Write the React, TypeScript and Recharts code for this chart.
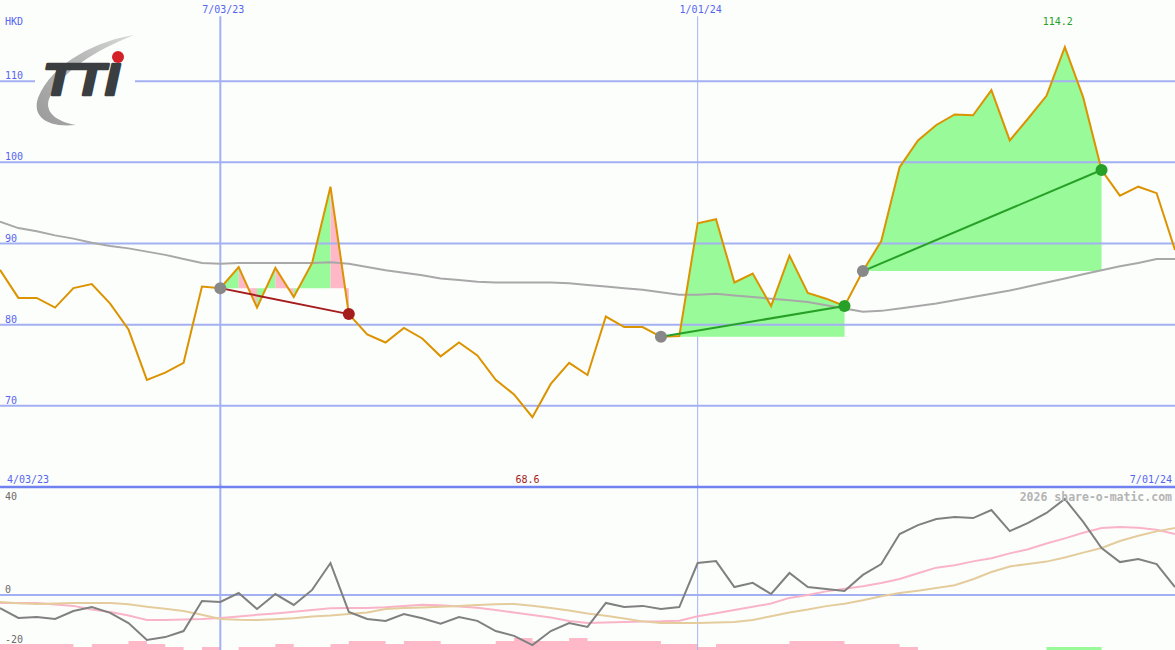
import { Area, ComposedChart, Line, ReferenceDot, ReferenceLine, XAxis, YAxis } from "recharts";

/**
 * Weekly TTI price chart (HKD) in the share-o-matic style:
 *  - top panel: close + long moving average, trades shaded from entry level
 *  - bottom panel: oscillator with two smoothings and a small volume strip
 */

const W = 1175;
const H = 650;
const TOP_H = 487;
const BOT_Y = 484;
const BOT_H = H - BOT_Y;

const BG = "#fcfefc";
const FONT = '"DejaVu Sans Mono", monospace';
const AXIS_TEXT = "#5565f0";
const GRID = "#a3b1f2";
const DIVIDER = "#7082f0";
const ORANGE = "#dc9300";
const MA_GRAY = "#a8a8a8";
const OSC_GRAY = "#808080";
const OSC_PINK = "#f9b4c8";
const OSC_TAN = "#e4cc9c";
const FILL_UP = "#98fa98";
const FILL_DOWN = "#ffb8c8";
const WIN = "#26a026";
const LOSS = "#a51c1c";
const ENTRY = "#888888";

// weekly closes, index 0 = left edge, 64 = right edge
const price = [
  86.75, 83.3, 83.3, 82.1, 84.5, 85.0, 82.6, 79.4, 73.2, 74.1, 75.3, 84.7, 84.5, 87.1, 82.1, 87.0,
  83.4, 87.6, 97.0, 81.3, 78.8, 77.8, 79.6, 78.3, 76.1, 77.8, 76.2, 73.2, 71.4, 68.6, 72.7, 75.3,
  73.8, 81.0, 79.7, 79.7, 78.5, 78.6, 92.5, 93.0, 85.2, 86.3, 82.3, 88.5, 83.9, 83.2, 82.3, 86.6,
  90.3, 99.4, 102.7, 104.6, 105.9, 105.8, 108.9, 102.7, 105.4, 108.2, 114.2, 108.0, 99.05, 95.9,
  97.0, 96.2, 89.2,
];
const priceMa = [
  92.7, 91.9, 91.5, 91.0, 90.6, 90.1, 89.7, 89.4, 89.0, 88.6, 88.1, 87.6, 87.5, 87.6, 87.6, 87.6,
  87.6, 87.6, 87.7, 87.5, 87.1, 86.7, 86.4, 86.1, 85.7, 85.5, 85.3, 85.2, 85.2, 85.2, 85.2, 85.1,
  84.9, 84.7, 84.5, 84.3, 84.0, 83.7, 83.7, 83.8, 83.6, 83.4, 83.2, 83.0, 82.8, 82.4, 82.0, 81.6,
  81.7, 82.0, 82.3, 82.6, 83.0, 83.4, 83.8, 84.2, 84.7, 85.2, 85.7, 86.2, 86.7, 87.2, 87.6, 88.1,
  88.1,
];
const osc = [
  -5.4, -9.5, -9.1, -9.9, -6.6, -5.0, -7.4, -11.6, -18.6, -17.4, -14.9, -2.5, -2.9, 0.8, -5.8, 0.4,
  -4.1, 2.1, 13.2, -7.0, -9.9, -10.7, -7.9, -9.6, -11.9, -9.1, -10.7, -14.9, -16.9, -20.7, -14.9,
  -11.6, -13.2, -3.3, -5.0, -4.5, -5.8, -5.0, 13.2, 14.0, 3.3, 5.0, 0.4, 9.1, 3.3, 2.5, 1.7, 8.3,
  12.8, 25.2, 28.9, 31.4, 32.2, 31.8, 35.1, 26.4, 29.8, 33.9, 39.7, 30.2, 19.4, 13.6, 14.9, 12.8,
  3.3,
];
const oscFast = [
  -3.3, -3.3, -3.3, -3.9, -4.5, -6.0, -7.0, -8.5, -10.3, -10.3, -10.1, -9.9, -9.5, -8.9, -8.2, -7.6,
  -6.9, -6.2, -5.5, -5.4, -5.4, -5.1, -4.5, -4.0, -4.2, -4.8, -5.3, -6.2, -7.2, -8.3, -9.3, -10.7,
  -11.6, -11.4, -11.2, -11.0, -10.9, -10.6, -8.8, -7.5, -6.2, -4.9, -3.5, -1.2, 0.0, 1.5, 2.6, 3.6,
  5.0, 6.6, 9.0, 11.3, 12.3, 13.9, 15.2, 17.2, 18.9, 21.3, 23.4, 25.7, 27.7, 28.1, 27.8, 27.0, 25.2,
];
const oscSlow = [
  -2.9, -3.4, -3.7, -3.5, -3.3, -3.3, -3.3, -3.8, -4.9, -5.7, -6.6, -8.2, -9.9, -10.2, -10.3, -10.0,
  -9.6, -8.9, -8.5, -7.9, -7.2, -5.8, -5.4, -5.2, -4.9, -4.5, -4.1, -3.8, -3.7, -4.4, -5.4, -6.4,
  -7.6, -8.6, -9.7, -10.9, -11.6, -11.6, -11.6, -11.4, -11.2, -10.3, -8.8, -7.2, -6.0, -4.6, -3.6,
  -2.2, -0.5, 0.8, 1.8, 2.9, 4.0, 6.5, 9.5, 11.8, 12.8, 13.8, 15.5, 17.5, 19.4, 22.3, 24.5, 26.3,
  27.7,
];
// volume strip, one block per week (block i spans week i .. i+1)
const volUp = [
  2, 2, 2, 2, 1, 2, 2, 3, 2, 1, 0, 1, 0, 1, 1, 2, 1, 1, 2, 3, 3, 2, 3, 3, 2, 2, 2, 3, 4, 3, 3, 4,
  3, 3, 3, 3, 2, 2, 1, 2, 2, 2, 2, 3, 3, 3, 2, 2, 2, 1, 0, 0, 0, 0, 0, 0, 0, 0, 0, 0, 0, 0, 0, 0,
];
const volDown = [
  0, 0, 0, 0, 0, 0, 0, 0, 0, 0, 0, 0, 0, 0, 0, 0, 0, 0, 0, 0, 0, 0, 0, 0, 0, 0, 0, 0, 0, 0, 0, 0,
  0, 0, 0, 0, 0, 0, 0, 0, 0, 0, 0, 0, 0, 0, 0, 0, 0, 0, 0, 0, 0, 0, 0, 0, 0, 1, 1, 1, 0, 0, 0, 0,
];

const priceTicks = [70, 80, 90, 100, 110];
const oscTicks = [40, 0, -20];
const gridIdx = [12, 38];
const gridLabels = ["7/03/23", "1/01/24"];
const rangeIdx = [0, 64];
const rangeLabels = ["4/03/23", "7/01/24"];

// trades: entry week, exit week, per-week shading (g = up week, p = down week)
const tradeStart = [12, 36, 47];
const tradeEnd = [19, 46, 60];
const tradeShade = ["gpgpggp", "gggggggggg", "ggggggggggggg"];

const PRICE_DOMAIN: [number, number] = [60, 120];
const OSC_DOMAIN: [number, number] = [-22.73, 45.87];
const VOL_DOMAIN: [number, number] = [0, BOT_H / 3];

type Row = {
  i: number;
  price: number;
  ma: number;
  osc: number;
  fast: number;
  slow: number;
  volUp?: number;
  volDown?: number;
};

const rows: Row[] = price.map((p, i) => ({
  i,
  price: p,
  ma: priceMa[i],
  osc: osc[i],
  fast: oscFast[i],
  slow: oscSlow[i],
  // last week carries the previous block so the step closes at the edge
  volUp: volUp[i] ?? volUp[i - 1],
  volDown: volDown[i] ?? volDown[i - 1],
}));

// merge runs of equally shaded weeks so each run is one polygon (no seams)
const trades = tradeStart.map((start, t) => {
  const end = tradeEnd[t];
  const shade = tradeShade[t];
  const runs: { from: number; to: number; c: string }[] = [];
  for (let s = 0; s < shade.length; s++) {
    const last = runs[runs.length - 1];
    if (last && last.c === shade[s]) last.to = start + s + 1;
    else runs.push({ from: start + s, to: start + s + 1, c: shade[s] });
  }
  return {
    start,
    end,
    win: price[end] > price[start],
    line: (d: Row) => (d.i === start || d.i === end ? d.price : null),
    runs: runs.map((r, k) => ({
      key: `t${t}r${k}`,
      base: price[start],
      fill: r.c === "g" ? FILL_UP : FILL_DOWN,
      value: (d: Row) => (d.i >= r.from && d.i <= r.to ? d.price : null),
    })),
  };
});

const maxI = price.indexOf(Math.max(...price));
const minI = price.indexOf(Math.min(...price));

function DateTick(props: { x?: number; payload?: { value: number } }) {
  const v = props.payload?.value ?? 0;
  const x = props.x ?? 0;
  const g = gridIdx.indexOf(v);
  if (g >= 0)
    return (
      <text x={x + 3} y={13} textAnchor="middle" fontFamily={FONT} fontSize={10} fill={AXIS_TEXT}>
        {gridLabels[g]}
      </text>
    );
  const r = rangeIdx.indexOf(v);
  if (r < 0) return null;
  return (
    <text
      x={r === 0 ? x + 7 : x - 3}
      y={483}
      textAnchor={r === 0 ? "start" : "end"}
      fontFamily={FONT}
      fontSize={10}
      fill={AXIS_TEXT}
    >
      {rangeLabels[r]}
    </text>
  );
}

function PriceTick(props: { y?: number; payload?: { value: number } }) {
  return (
    <text x={5} y={(props.y ?? 0) - 2} fontFamily={FONT} fontSize={10} fill={AXIS_TEXT}>
      {props.payload?.value}
    </text>
  );
}

function OscTick(props: { y?: number; payload?: { value: number } }) {
  const v = props.payload?.value ?? 0;
  return (
    <text x={5} y={(props.y ?? 0) + (v === 0 ? -2 : 2)} fontFamily={FONT} fontSize={10} fill="#6a6a6a">
      {v}
    </text>
  );
}

function Logo() {
  return (
    <g>
      <rect x={35} y={30} width={100} height={98} fill={BG} />
      <defs>
        <linearGradient id="swoosh" x1="0" y1="1" x2="1" y2="0">
          <stop offset="0" stopColor="#9a9a9a" />
          <stop offset="0.6" stopColor="#b8b8b8" />
          <stop offset="1" stopColor="#dadada" />
        </linearGradient>
      </defs>
      <path
        d="M134 35 C 100 40, 52 62, 38 98 C 32 116, 46 128, 76 125 C 54 121, 45 111, 49 99 C 60 72, 96 50, 134 35 Z"
        fill="url(#swoosh)"
      />
      <text
        x={43}
        y={95}
        fontFamily='"Liberation Sans", Arial, sans-serif'
        fontSize={45}
        fontWeight={900}
        fontStyle="italic"
        fill="#3b3e41"
        stroke="#3b3e41"
        strokeWidth={2.6}
        strokeLinejoin="round"
        textLength={76}
        lengthAdjust="spacingAndGlyphs"
      >
        TTI
      </text>
      <circle cx={118} cy={57} r={6} fill="#d42029" />
    </g>
  );
}

export default function App() {
  return (
    <div style={{ position: "absolute", left: 0, top: 0, width: W, height: H, background: BG, overflow: "hidden" }}>
      {/* price panel */}
      <div style={{ position: "absolute", left: 0, top: 0 }}>
        <ComposedChart width={W} height={TOP_H} data={rows} margin={{ top: 0, right: 0, bottom: 0, left: 0 }}>
          <XAxis
            dataKey="i"
            type="number"
            domain={[0, 64]}
            orientation="top"
            mirror
            ticks={[...rangeIdx, ...gridIdx]}
            interval={0}
            tick={<DateTick />}
            tickLine={false}
            axisLine={false}
          />
          <YAxis
            type="number"
            domain={PRICE_DOMAIN}
            ticks={priceTicks}
            mirror
            tick={<PriceTick />}
            tickLine={false}
            axisLine={false}
          />

          {gridIdx.map((g, k) => (
            <ReferenceLine
              key={`v${g}`}
              segment={[
                { x: g, y: PRICE_DOMAIN[1] - 2 },
                { x: g, y: PRICE_DOMAIN[0] },
              ]}
              stroke={GRID}
              strokeWidth={k === 0 ? 2 : 1}
              zIndex={50}
            />
          ))}

          {trades.flatMap(t =>
            t.runs.map(r => (
              <Area
                key={r.key}
                dataKey={r.value}
                baseValue={r.base}
                fill={r.fill}
                fillOpacity={1}
                stroke="none"
                dot={false}
                activeDot={false}
                isAnimationActive={false}
              />
            )),
          )}

          {priceTicks.map(v => (
            <ReferenceLine key={`h${v}`} y={v} stroke={GRID} strokeWidth={2} zIndex={150} />
          ))}

          <Line dataKey="ma" stroke={MA_GRAY} strokeWidth={2} dot={false} activeDot={false} isAnimationActive={false} />
          <Line dataKey="price" stroke={ORANGE} strokeWidth={2} dot={false} activeDot={false} isAnimationActive={false} />

          {trades.map((t, k) => (
            <Line
              key={`tl${k}`}
              dataKey={t.line}
              connectNulls
              stroke={t.win ? WIN : LOSS}
              strokeWidth={2}
              dot={false}
              activeDot={false}
              isAnimationActive={false}
            />
          ))}

          {trades.map((t, k) => (
            <ReferenceDot key={`en${k}`} x={t.start} y={price[t.start]} r={6} fill={ENTRY} stroke="none" zIndex={700} />
          ))}
          {trades.map((t, k) => (
            <ReferenceDot
              key={`ex${k}`}
              x={t.end}
              y={price[t.end]}
              r={6}
              fill={t.win ? WIN : LOSS}
              stroke="none"
              zIndex={700}
            />
          ))}

          <ReferenceDot
            x={maxI}
            y={price[maxI]}
            zIndex={800}
            shape={(p: { cx?: number }) => (
              <text x={(p.cx ?? 0) - 7} y={25} textAnchor="middle" fontFamily={FONT} fontSize={10} fill={WIN}>
                {price[maxI].toFixed(1)}
              </text>
            )}
          />
          <ReferenceDot
            x={minI}
            y={price[minI]}
            zIndex={800}
            shape={(p: { cx?: number }) => (
              <text x={(p.cx ?? 0) - 5} y={483} textAnchor="middle" fontFamily={FONT} fontSize={10} fill={LOSS}>
                {price[minI].toFixed(1)}
              </text>
            )}
          />
        </ComposedChart>
      </div>

      {/* oscillator panel */}
      <div style={{ position: "absolute", left: 0, top: BOT_Y }}>
        <ComposedChart width={W} height={BOT_H} data={rows} margin={{ top: 0, right: 0, bottom: 0, left: 0 }}>
          <XAxis dataKey="i" type="number" domain={[0, 64]} hide />
          <YAxis
            yAxisId="osc"
            type="number"
            domain={OSC_DOMAIN}
            ticks={oscTicks}
            mirror
            tick={<OscTick />}
            tickLine={false}
            axisLine={false}
          />
          <YAxis yAxisId="vol" type="number" domain={VOL_DOMAIN} hide />

          {/* weekly volume blocks */}
          <Area
            yAxisId="vol"
            type="stepAfter"
            dataKey="volUp"
            baseValue={0}
            fill={FILL_DOWN}
            fillOpacity={1}
            stroke="none"
            dot={false}
            activeDot={false}
            isAnimationActive={false}
          />
          <Area
            yAxisId="vol"
            type="stepAfter"
            dataKey="volDown"
            baseValue={0}
            fill={FILL_UP}
            fillOpacity={1}
            stroke="none"
            dot={false}
            activeDot={false}
            isAnimationActive={false}
          />

          <ReferenceLine yAxisId="osc" y={0} stroke={GRID} strokeWidth={2} />
          {gridIdx.map((g, k) => (
            <ReferenceLine key={`bv${g}`} yAxisId="osc" x={g} stroke={GRID} strokeWidth={k === 0 ? 2 : 1} />
          ))}
          <ReferenceLine yAxisId="osc" y={OSC_DOMAIN[1] - 1.25} stroke={DIVIDER} strokeWidth={2.5} />

          <Line yAxisId="osc" dataKey="fast" stroke={OSC_PINK} strokeWidth={2} dot={false} activeDot={false} isAnimationActive={false} />
          <Line yAxisId="osc" dataKey="slow" stroke={OSC_TAN} strokeWidth={2} dot={false} activeDot={false} isAnimationActive={false} />
          <Line yAxisId="osc" dataKey="osc" stroke={OSC_GRAY} strokeWidth={2} dot={false} activeDot={false} isAnimationActive={false} />
        </ComposedChart>
      </div>

      {/* logo, currency, credit */}
      <svg width={W} height={H} style={{ position: "absolute", left: 0, top: 0, pointerEvents: "none" }}>
        <text x={5} y={25} fontFamily={FONT} fontSize={10} fill={AXIS_TEXT}>
          HKD
        </text>
        <Logo />
        <text x={1172} y={501} textAnchor="end" fontFamily={FONT} fontSize={11.5} fontWeight={700} fill="#b4b4b4">
          2026 share-o-matic.com
        </text>
      </svg>
    </div>
  );
}
